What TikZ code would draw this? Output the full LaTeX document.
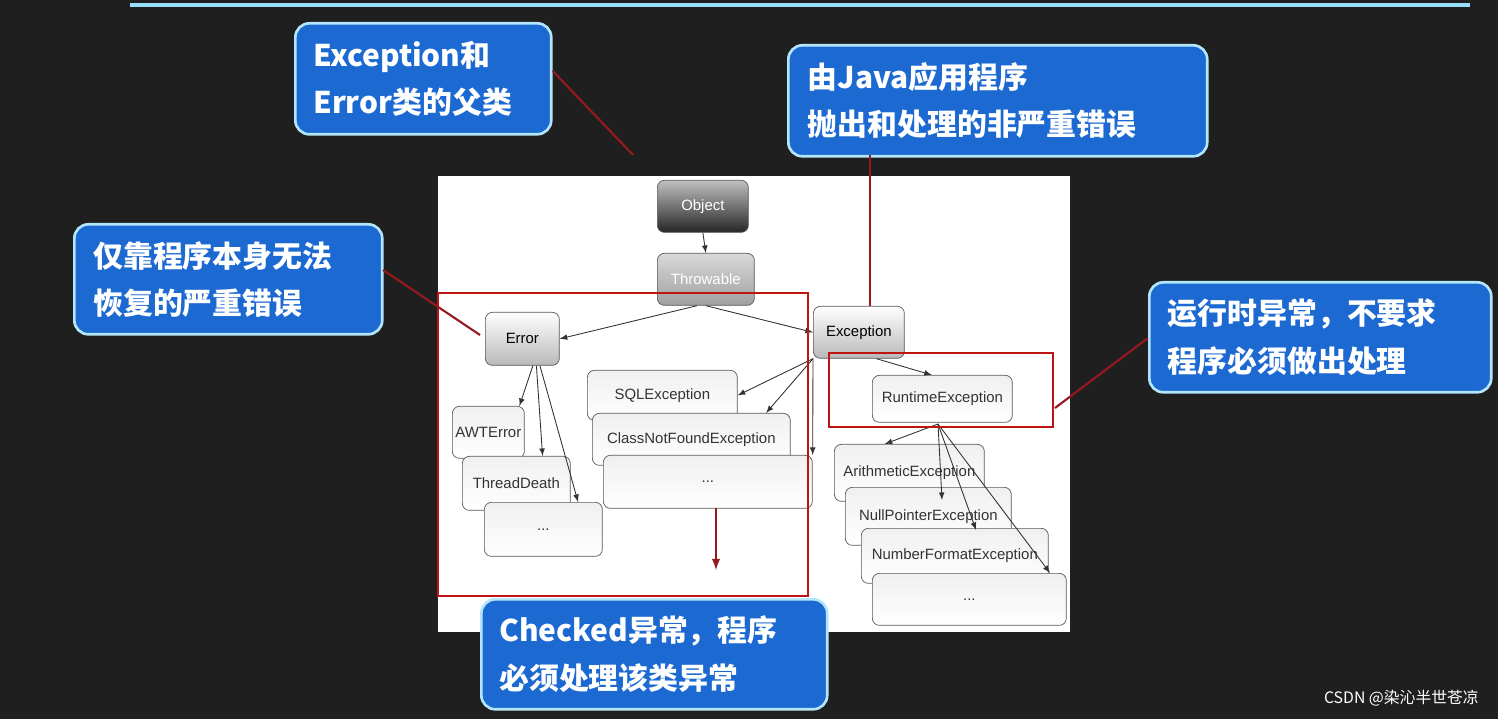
\documentclass[tikz,border=0pt]{standalone}
\usepackage{fontspec}
\setmainfont{Liberation Sans}
\newfontfamily\cjk{Noto Sans CJK SC}
\begin{document}
\begin{tikzpicture}[x=0.02cm,y=-0.02cm,
  gnode/.style={draw=gray!70!black,rounded corners=4pt,anchor=north west,inner sep=0pt,font=\fontsize{8.5}{10}\selectfont},
  dark/.style={gnode,top color=gray!50,bottom color=black!85,text=white},
  mid/.style={gnode,top color=gray!30,bottom color=gray!75,text=white},
  light/.style={gnode,top color=white,bottom color=gray!55},
  wbox/.style={gnode,top color=gray!12,bottom color=white,fill=white,text=black!80},
  arr/.style={-latex,black!80,line width=0.5pt},
  callout/.style={draw=cyan!30!white,line width=1.5pt,fill={rgb,255:red,28;green,105;blue,210},rounded corners=8pt,anchor=north west,text=white,align=left,inner sep=0pt,font=\cjk\bfseries\fontsize{17}{27}\selectfont},
  redl/.style={draw={rgb,255:red,150;green,25;blue,30},line width=1.2pt},
  redbox/.style={draw={rgb,255:red,190;green,20;blue,20},line width=1.5pt}]
\fill[black!88] (0,0) rectangle (1498,719);
\useasboundingbox (0,0) rectangle (1498,719);
\draw[cyan!40!white,line width=2pt] (130,5) -- (1470,5);
\fill[white] (438,176) rectangle (1070,632);
% nodes
\node[dark,minimum width=1.82cm,minimum height=1.04cm] (obj) at (657,180) {Object};
\node[mid,minimum width=1.94cm,minimum height=1.04cm] (thr) at (657,253) {Throwable};
\node[light,minimum width=1.48cm,minimum height=1.06cm] (err) at (485,312) {Error};
\node[light,minimum width=1.82cm,minimum height=1.04cm] (exc) at (813,306) {Exception};
\node[wbox,minimum width=3.0cm,minimum height=1.0cm] (sql) at (587,370) {SQLException};
\node[wbox,minimum width=3.96cm,minimum height=1.04cm] (cnf) at (592,413) {ClassNotFoundException};
\node[wbox,minimum width=4.18cm,minimum height=1.06cm] (d1) at (603,455) {...};
\node[wbox,minimum width=1.44cm,minimum height=1.04cm] (awt) at (452,406) {AWTError};
\node[wbox,minimum width=2.16cm,minimum height=1.08cm] (td) at (462,456) {ThreadDeath};
\node[wbox,minimum width=2.36cm,minimum height=1.08cm] (d2) at (484,502) {...};
\node[wbox,minimum width=2.8cm,minimum height=0.94cm] (rt) at (872,375) {RuntimeException};
\node[wbox,minimum width=3.0cm,minimum height=1.14cm] (ar) at (834,444) {ArithmeticException};
\node[wbox,minimum width=3.32cm,minimum height=1.16cm] (np) at (845,487) {NullPointerException};
\node[wbox,minimum width=3.74cm,minimum height=1.1cm] (nf) at (861,528) {NumberFormatException};
\node[wbox,minimum width=3.88cm,minimum height=1.04cm] (d3) at (872,573) {...};
% arrows
\draw[arr] (obj.south) -- (thr.north);
\draw[arr] ([xshift=-5pt]thr.south) -- (err.east);
\draw[arr] (thr.south) -- (exc.west);
\draw[arr] ([xshift=6pt]err.south) -- ([xshift=-3pt]awt.north east);
\draw[arr] ([xshift=8pt]err.south) -- ([xshift=-16pt]td.north east);
\draw[arr] ([xshift=10pt]err.south) -- ([xshift=-14pt]d2.north east);
\draw[arr] (exc.south west) -- (sql.east);
\draw[arr] (exc.south west) -- ([xshift=-14pt]cnf.north east);
\draw[arr] (exc.south west) -- (d1.north east);
\draw[arr] ([xshift=10pt]exc.south) -- ([xshift=-6pt]rt.north);
\coordinate (rb) at (938,424);
\draw[arr] (rb) -- ([xshift=-14pt]ar.north);
\draw[arr] (rb) -- (942,500);
\draw[arr] (rb) -- (976,530);
\draw[arr] (rb) -- (1050,573);
% red boxes
\draw[redbox] (438,293) rectangle (808,596);
\draw[redbox] (829,353) rectangle (1053,427);
\coordinate (dtop) at (716,508);
\coordinate (dbot) at (716,570);
\draw[redl,-latex] (dtop) -- (dbot);
% callouts
\node[callout,minimum width=5.12cm,minimum height=2.22cm,text width=4.8cm] (ca) at (294,22) {\hspace*{0.2cm}Exception和\\\hspace*{0.2cm}Error类的父类};
\node[callout,minimum width=8.38cm,minimum height=2.22cm,text width=8.0cm] (cb) at (787,44) {\hspace*{0.2cm}由Java应用程序\\\hspace*{0.2cm}抛出和处理的非严重错误};
\node[callout,minimum width=6.16cm,minimum height=2.2cm,text width=5.8cm] (cc) at (73,223) {\hspace*{0.2cm}仅靠程序本身无法\\\hspace*{0.2cm}恢复的严重错误};
\node[callout,minimum width=6.84cm,minimum height=2.2cm,text width=6.5cm] (cd) at (1148,281) {\hspace*{0.2cm}运行时异常，不要求\\\hspace*{0.2cm}程序必须做出处理};
\node[callout,minimum width=6.92cm,minimum height=2.2cm,text width=6.6cm] (ce) at (480,598) {\hspace*{0.2cm}Checked异常，程序\\\hspace*{0.2cm}必须处理该类异常};
\coordinate (pa) at (633,155);
\draw[redl] (ca.east) ++(0,-8) -- (pa);
\coordinate (bl) at (870,155);
\coordinate (et) at (870,306);
\draw[redl] (bl) -- (et);
\draw[redl] (383,270) -- (480,335);
\draw[redl] (1148,338) -- (1055,408);
\node[anchor=south east,text=white!90,font=\cjk\fontsize{9}{10}\selectfont] (wm) at (1485,712) {CSDN @染沁半世苍凉};
\end{tikzpicture}
\end{document}
